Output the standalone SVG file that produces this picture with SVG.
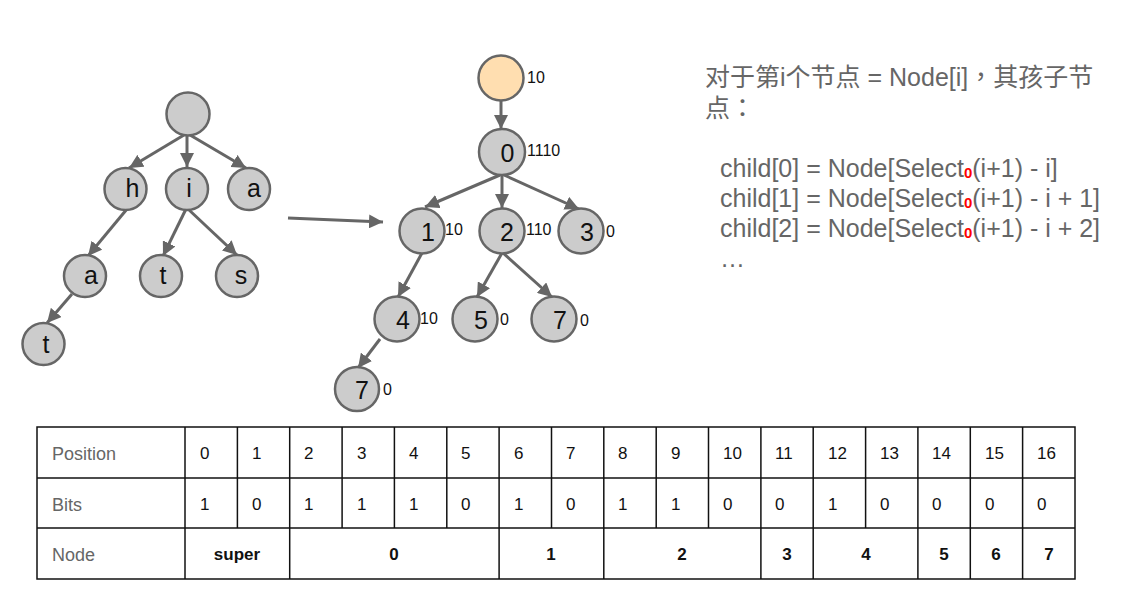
<svg xmlns="http://www.w3.org/2000/svg" width="1145" height="605" viewBox="0 0 1145 605">
<style>
.n{fill:#cccccc;stroke:#666666;stroke-width:2.5}
.sup{fill:#ffdeb0;stroke:#666666;stroke-width:2.5}
.e{stroke:#666666;stroke-width:3;fill:none}
.lt{font-family:"Liberation Sans",Arial,sans-serif;font-size:25px;fill:#111;text-anchor:middle}
.nt{font-family:"Liberation Sans",Arial,sans-serif;font-size:25px;fill:#111;text-anchor:middle}
.lb{font-family:"Liberation Sans",Arial,sans-serif;font-size:16px;fill:#111}
.rt{font-family:"Liberation Sans","Noto Sans CJK SC",sans-serif;font-size:25px;fill:#666666}
.p{font-family:"Noto Sans CJK TC",sans-serif}
.sub{font-family:"Liberation Sans",sans-serif;font-size:15px;font-weight:bold;fill:#ff0000}
.tl{font-family:"Liberation Sans",Arial,sans-serif;font-size:18px;fill:#666666}
.tn{font-family:"Liberation Sans",Arial,sans-serif;font-size:17px;fill:#111}
.tb{font-family:"Liberation Sans",Arial,sans-serif;font-size:17px;font-weight:bold;fill:#111;text-anchor:middle}
.g{stroke:#111;stroke-width:1.5;fill:none}
</style>
<defs>
<marker id="ah" viewBox="0 0 14 14" refX="14" refY="7" markerWidth="14" markerHeight="14" orient="auto" markerUnits="userSpaceOnUse">
<path d="M0,0 L14,7 L0,14 z" fill="#666666"/>
</marker>
</defs>

<g id="connectors">
<line class="e" x1="184" y1="135" x2="129" y2="168" marker-end="url(#ah)"/>
<line class="e" x1="187" y1="135" x2="187" y2="167" marker-end="url(#ah)"/>
<line class="e" x1="190" y1="135" x2="246" y2="168" marker-end="url(#ah)"/>
<line class="e" x1="127" y1="209" x2="88" y2="256" marker-end="url(#ah)"/>
<line class="e" x1="72" y1="294" x2="47" y2="323" marker-end="url(#ah)"/>
<line class="e" x1="186" y1="209" x2="163" y2="256" marker-end="url(#ah)"/>
<line class="e" x1="188" y1="209" x2="237" y2="255" marker-end="url(#ah)"/>
<line class="e" x1="288" y1="218" x2="383" y2="222" marker-end="url(#ah)"/>
<line class="e" x1="501" y1="101" x2="501" y2="129" marker-end="url(#ah)"/>
<line class="e" x1="500" y1="175" x2="425" y2="207" marker-end="url(#ah)"/>
<line class="e" x1="502" y1="175" x2="502" y2="208" marker-end="url(#ah)"/>
<line class="e" x1="504" y1="175" x2="579" y2="209" marker-end="url(#ah)"/>
<line class="e" x1="422" y1="253" x2="398" y2="297" marker-end="url(#ah)"/>
<line class="e" x1="502" y1="253" x2="477" y2="297" marker-end="url(#ah)"/>
<line class="e" x1="503" y1="253" x2="552" y2="297" marker-end="url(#ah)"/>
<line class="e" x1="380" y1="339" x2="358" y2="368" marker-end="url(#ah)"/>
</g>

<g id="L-root"><circle class="n" cx="188" cy="114" r="21.5"/></g>
<g id="L-h"><circle class="n" cx="125.5" cy="189" r="21"/><text class="lt" x="132.5" y="197">h</text></g>
<g id="L-i"><circle class="n" cx="187" cy="189" r="21"/><text class="lt" x="189" y="197">i</text></g>
<g id="L-a"><circle class="n" cx="249" cy="189" r="21"/><text class="lt" x="254" y="197">a</text></g>
<g id="L-a2"><circle class="n" cx="85" cy="276" r="21"/><text class="lt" x="91" y="284">a</text></g>
<g id="L-t"><circle class="n" cx="161" cy="276" r="21"/><text class="lt" x="163" y="284">t</text></g>
<g id="L-s"><circle class="n" cx="237" cy="276" r="21"/><text class="lt" x="241" y="284">s</text></g>
<g id="L-t2"><circle class="n" cx="43.5" cy="344" r="21"/><text class="lt" x="46" y="353">t</text></g>

<g id="R-super"><circle class="sup" cx="501" cy="78" r="22.5"/><text class="lb" x="527" y="83">10</text></g>
<g id="R-0"><circle class="n" cx="502" cy="152" r="23"/><text class="nt" x="507.5" y="162">0</text><text class="lb" x="527" y="156">1110</text></g>
<g id="R-1"><circle class="n" cx="422" cy="231" r="22.5"/><text class="nt" x="428" y="241">1</text><text class="lb" x="445" y="235">10</text></g>
<g id="R-2"><circle class="n" cx="502" cy="231" r="22.5"/><text class="nt" x="507" y="241">2</text><text class="lb" x="526" y="235">110</text></g>
<g id="R-3"><circle class="n" cx="581" cy="231" r="22.5"/><text class="nt" x="587" y="241">3</text><text class="lb" x="606" y="237">0</text></g>
<g id="R-4"><circle class="n" cx="397" cy="319" r="22.5"/><text class="nt" x="403" y="329">4</text><text class="lb" x="420" y="324">10</text></g>
<g id="R-5"><circle class="n" cx="475" cy="319" r="22.5"/><text class="nt" x="481" y="329">5</text><text class="lb" x="500" y="325">0</text></g>
<g id="R-7a"><circle class="n" cx="554" cy="319" r="22.5"/><text class="nt" x="560" y="329">7</text><text class="lb" x="580" y="326">0</text></g>
<g id="R-7b"><circle class="n" cx="357" cy="389" r="22"/><text class="nt" x="362" y="399">7</text><text class="lb" x="383" y="395">0</text></g>

<g id="desc">
<text class="rt" x="705" y="86">对于第i个节点 = Node[i]<tspan class="p">，</tspan>其孩子节</text>
<text class="rt" x="705" y="117">点<tspan class="p">：</tspan></text>
<text class="rt" x="720" y="177">child[0] = Node[Select<tspan class="sub" dy="1">0</tspan><tspan dy="-1">(i+1) - i]</tspan></text>
<text class="rt" x="720" y="207">child[1] = Node[Select<tspan class="sub" dy="1">0</tspan><tspan dy="-1">(i+1) - i + 1]</tspan></text>
<text class="rt" x="720" y="237">child[2] = Node[Select<tspan class="sub" dy="1">0</tspan><tspan dy="-1">(i+1) - i + 2]</tspan></text>
<text class="rt" x="720" y="267">…</text>
</g>

<g id="table">
<rect class="g" x="37" y="427" width="1038" height="152"/>
<line class="g" x1="37" y1="478" x2="1075" y2="478"/>
<line class="g" x1="37" y1="528" x2="1075" y2="528"/>
<line class="g" x1="185" y1="427" x2="185" y2="579"/>
<path class="g" d="M237.4,427V528 M289.7,427V579 M342.1,427V528 M394.4,427V528 M446.8,427V528 M499.1,427V579 M551.5,427V528 M603.8,427V579 M656.2,427V528 M708.5,427V528 M760.9,427V579 M813.2,427V579 M865.6,427V528 M917.9,427V579 M970.3,427V579 M1022.6,427V579"/>
<text class="tl" x="52" y="460">Position</text>
<text class="tl" x="52" y="511">Bits</text>
<text class="tl" x="52" y="561">Node</text>
<g class="tn">
<text x="200" y="459">0</text><text x="252" y="459">1</text><text x="304" y="459">2</text><text x="357" y="459">3</text><text x="409" y="459">4</text><text x="461" y="459">5</text><text x="514" y="459">6</text><text x="566" y="459">7</text><text x="618" y="459">8</text><text x="671" y="459">9</text><text x="723" y="459">10</text><text x="775" y="459">11</text><text x="828" y="459">12</text><text x="880" y="459">13</text><text x="932" y="459">14</text><text x="985" y="459">15</text><text x="1037" y="459">16</text>
<text x="200" y="510">1</text><text x="252" y="510">0</text><text x="304" y="510">1</text><text x="357" y="510">1</text><text x="409" y="510">1</text><text x="461" y="510">0</text><text x="514" y="510">1</text><text x="566" y="510">0</text><text x="618" y="510">1</text><text x="671" y="510">1</text><text x="723" y="510">0</text><text x="775" y="510">0</text><text x="828" y="510">1</text><text x="880" y="510">0</text><text x="932" y="510">0</text><text x="985" y="510">0</text><text x="1037" y="510">0</text>
</g>
<text class="tb" x="237" y="560">super</text>
<text class="tb" x="394" y="560">0</text>
<text class="tb" x="551" y="560">1</text>
<text class="tb" x="682" y="560">2</text>
<text class="tb" x="787" y="560">3</text>
<text class="tb" x="866" y="560">4</text>
<text class="tb" x="944" y="560">5</text>
<text class="tb" x="996" y="560">6</text>
<text class="tb" x="1049" y="560">7</text>
</g>
</svg>
